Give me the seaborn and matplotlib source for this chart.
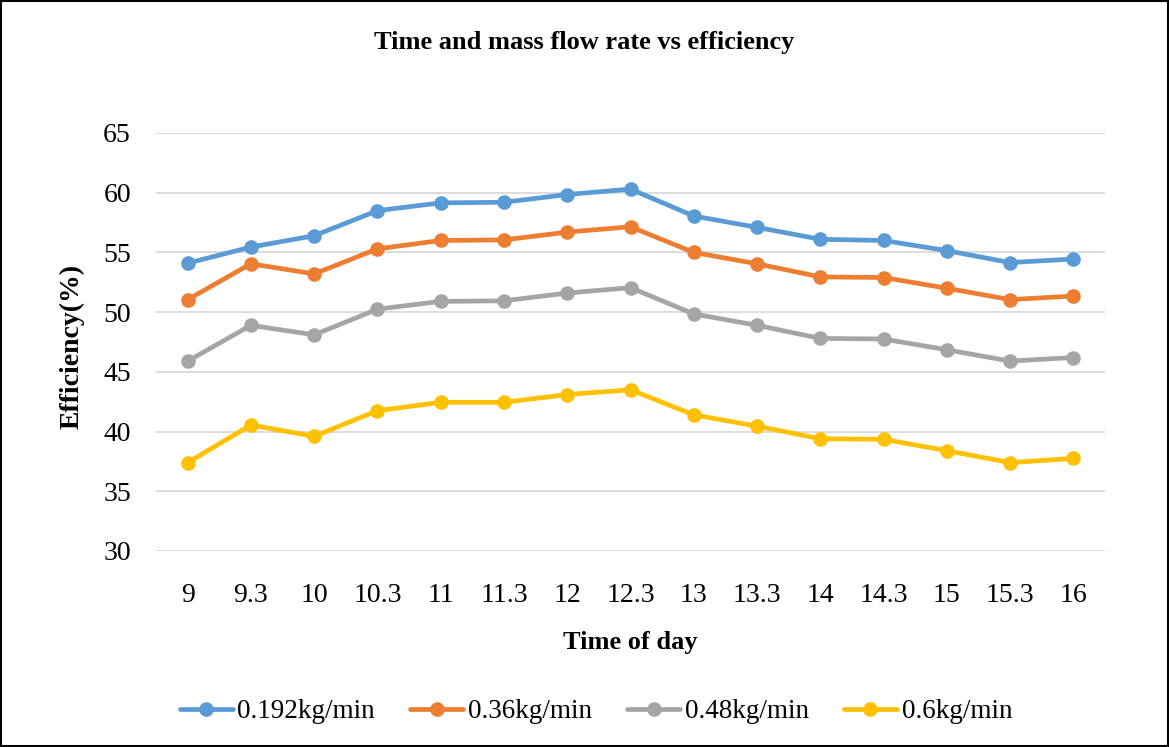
import matplotlib
matplotlib.use("Agg")
import matplotlib.pyplot as plt
import seaborn as sns
import pandas as pd
from matplotlib.patches import Rectangle

times = ["9", "9.3", "10", "10.3", "11", "11.3", "12", "12.3", "13", "13.3", "14", "14.3", "15", "15.3", "16"]
eff_0192 = [54.1, 55.45, 56.4, 58.5, 59.15, 59.2, 59.85, 60.3, 58.05, 57.1, 56.1, 56.0, 55.15, 54.15, 54.45]
eff_036 = [51.05, 54.05, 53.2, 55.3, 56.0, 56.05, 56.7, 57.15, 55.0, 54.05, 52.95, 52.9, 52.0, 51.05, 51.35]
eff_048 = [45.9, 48.9, 48.1, 50.25, 50.9, 50.95, 51.6, 52.05, 49.85, 48.9, 47.8, 47.75, 46.85, 45.9, 46.2]
eff_06 = [37.4, 40.55, 39.6, 41.75, 42.45, 42.45, 43.1, 43.5, 41.4, 40.45, 39.4, 39.35, 38.4, 37.4, 37.75]
series_names = ["0.192kg/min", "0.36kg/min", "0.48kg/min", "0.6kg/min"]
colors = ["#5B9BD5", "#ED7D31", "#A5A5A5", "#FFC000"]
y_ticks = [30, 35, 40, 45, 50, 55, 60, 65]

rows = []
for name, vals in zip(series_names, [eff_0192, eff_036, eff_048, eff_06]):
    for t, v in zip(times, vals):
        rows.append({"Time": t, "Efficiency": v, "Series": name})
df = pd.DataFrame(rows)

sns.set_theme(style="white")
plt.rcParams["font.family"] = ["Liberation Serif", "DejaVu Serif"]

W, H = 1169, 747
ax_l, ax_r, ax_t, ax_b = 156, 1105, 133, 551
fig = plt.figure(figsize=(W / 100, H / 100), dpi=100)
ax = fig.add_axes([ax_l / W, 1 - ax_b / H, (ax_r - ax_l) / W, (ax_b - ax_t) / H])

sns.lineplot(data=df, x="Time", y="Efficiency", hue="Series", hue_order=series_names,
             palette=colors, marker="o", markersize=10.5, linewidth=3.4,
             markeredgewidth=0, sort=False, ax=ax, legend=True)

ax.set_xlim(-0.5, len(times) - 0.5)
ax.set_ylim(30, 65)
ax.set_yticks(y_ticks)
ax.yaxis.grid(True, color="#D9D9D9", linewidth=1.3)
ax.xaxis.grid(False)
for s in ax.spines.values():
    s.set_visible(False)
ax.tick_params(axis="both", labelsize=20, length=0, colors="black")
ax.tick_params(axis="x", pad=23)
ax.tick_params(axis="y", pad=18)

ax.set_xlabel("Time of day", fontsize=19, fontweight="bold", color="black")
ax.xaxis.set_label_coords(0.5, -(643 - ax_b) / (ax_b - ax_t))
ax.xaxis.label.set_va("center")
ax.set_ylabel("Efficiency(%)", fontsize=20, fontweight="bold", color="black")
ax.yaxis.set_label_coords(-(ax_l - 72) / (ax_r - ax_l), 0.49)
ax.yaxis.label.set_va("center")

fig.text(0.5, 1 - 43 / H, "Time and mass flow rate vs efficiency", ha="center", va="center",
         fontsize=19, fontweight="bold", color="black")

handles, labels = ax.get_legend_handles_labels()
ax.legend_.remove()
fig.legend(handles, labels, loc="center", bbox_to_anchor=(596 / W, 1 - 712 / H), ncol=4,
           frameon=False, fontsize=19.5, handlelength=1.95, handletextpad=0.18,
           columnspacing=1.3, labelcolor="black")

fig.patches.append(Rectangle((0.001, 0.001), 0.998, 0.998, transform=fig.transFigure,
                             fill=False, edgecolor="black", linewidth=1.5))

fig.savefig("out.png", dpi=100)
